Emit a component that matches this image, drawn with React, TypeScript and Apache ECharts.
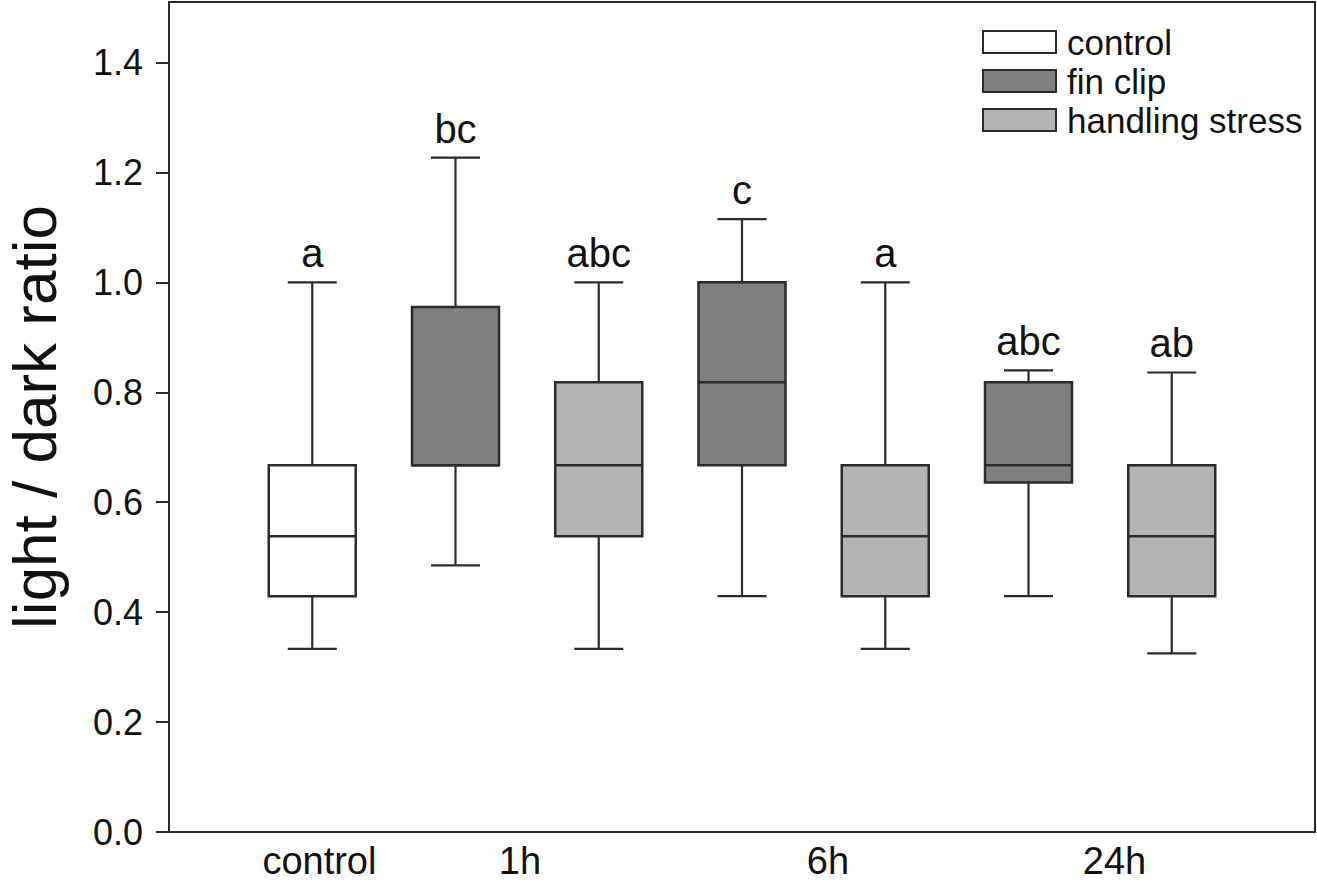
import React, { useEffect, useRef } from "react";
import * as echarts from "echarts";

// Box positions on the x axis (1..7) and their treatment group
const positions = [1, 2, 3, 4, 5, 6, 7];
const groups = ["control", "fin clip", "handling stress", "fin clip", "handling stress", "fin clip", "handling stress"];
// five-number summaries
const mins = [0.333, 0.485, 0.333, 0.429, 0.333, 0.429, 0.325];
const q1s = [0.429, 0.667, 0.538, 0.667, 0.429, 0.636, 0.429];
const medians = [0.538, 0.667, 0.667, 0.818, 0.538, 0.667, 0.538];
const q3s = [0.667, 0.955, 0.818, 1.0, 0.667, 0.818, 0.667];
const maxes = [1.0, 1.227, 1.0, 1.115, 1.0, 0.84, 0.836];
const letters = ["a", "bc", "abc", "c", "a", "abc", "ab"];

const seriesNames = ["control", "fin clip", "handling stress"];
const seriesFills = ["#ffffff", "#808080", "#b4b4b4"];

const xLabelPositions = [1.05, 2.45, 4.6, 6.6];
const xLabelTexts = ["control", "1h", "6h", "24h"];
const yTicks = [0, 0.2, 0.4, 0.6, 0.8, 1.0, 1.2, 1.4];

const FONT = "'Liberation Sans', Arial, sans-serif";
const INK = "#2b2b2b";

export default function App() {
  const ref = useRef<HTMLDivElement>(null);
  useEffect(() => {
    if (!ref.current) return;
    const chart = echarts.init(ref.current, null, { renderer: "svg" });

    const makeRender = (fill: string) => (params: any, api: any) => {
      const x = api.value(0);
      const idx = api.value(6);
      const pMin = api.coord([x, api.value(1)]);
      const pQ1 = api.coord([x, api.value(2)]);
      const pMed = api.coord([x, api.value(3)]);
      const pQ3 = api.coord([x, api.value(4)]);
      const pMax = api.coord([x, api.value(5)]);
      const cx = pMin[0];
      const boxW = 87;
      const capW = 49;
      const ls = { stroke: INK, lineWidth: 2.2, fill: null };
      return {
        type: "group",
        children: [
          { type: "line", shape: { x1: cx, y1: pMax[1], x2: cx, y2: pQ3[1] }, style: ls },
          { type: "line", shape: { x1: cx, y1: pQ1[1], x2: cx, y2: pMin[1] }, style: ls },
          { type: "line", shape: { x1: cx - capW / 2, y1: pMax[1], x2: cx + capW / 2, y2: pMax[1] }, style: ls },
          { type: "line", shape: { x1: cx - capW / 2, y1: pMin[1], x2: cx + capW / 2, y2: pMin[1] }, style: ls },
          {
            type: "rect",
            shape: { x: cx - boxW / 2, y: pQ3[1], width: boxW, height: pQ1[1] - pQ3[1] },
            style: { fill, stroke: INK, lineWidth: 2.5 },
          },
          { type: "line", shape: { x1: cx - boxW / 2, y1: pMed[1], x2: cx + boxW / 2, y2: pMed[1] }, style: { stroke: INK, lineWidth: 2.5 } },
          {
            type: "text",
            x: cx,
            y: pMax[1] - 9,
            style: {
              text: letters[idx],
              fill: "#111",
              font: `40px ${FONT}`,
              align: "center",
              verticalAlign: "bottom",
            },
          },
        ],
      };
    };

    const series = seriesNames.map((name, s) => ({
      name,
      type: "custom",
      renderItem: makeRender(seriesFills[s]),
      itemStyle: { color: seriesFills[s], borderColor: INK, borderWidth: 2 },
      encode: { x: 0, y: [1, 2, 3, 4, 5] },
      data: positions
        .map((p, i) => ({ p, i }))
        .filter((d) => groups[d.i] === name)
        .map((d) => [d.p, mins[d.i], q1s[d.i], medians[d.i], q3s[d.i], maxes[d.i], d.i]),
    }));

    chart.setOption({
      animation: false,
      backgroundColor: "#ffffff",
      textStyle: { fontFamily: FONT },
      grid: {
        left: 169,
        right: 2,
        top: 2,
        bottom: 54,
        containLabel: false,
        outerBoundsMode: "none",
        show: true,
        borderColor: INK,
        borderWidth: 2,
        backgroundColor: "transparent",
      },
      legend: {
        orient: "vertical",
        left: 982,
        top: 24,
        padding: 0,
        itemWidth: 73,
        itemHeight: 22,
        itemGap: 3,
        icon: "rect",
        selectedMode: false,
        textStyle: { fontSize: 35, lineHeight: 36, color: "#111", fontFamily: FONT, padding: [0, 0, 0, 6] },
        data: seriesNames.map((n, s) => ({
          name: n,
          itemStyle: { color: seriesFills[s], borderColor: INK, borderWidth: 2 },
        })),
      },
      xAxis: {
        type: "value",
        min: 0,
        max: 8,
        axisLine: { show: true, lineStyle: { color: INK, width: 2 } },
        axisTick: { show: false },
        splitLine: { show: false },
        axisLabel: {
          customValues: xLabelPositions,
          fontSize: 38,
          color: "#111",
          margin: 10,
          formatter: (v: number) => {
            const k = xLabelPositions.findIndex((p) => Math.abs(p - v) < 1e-6);
            return k >= 0 ? xLabelTexts[k] : "";
          },
        },
      },
      yAxis: {
        type: "value",
        min: 0,
        max: 1.51,
        name: "light / dark ratio",
        nameLocation: "middle",
        nameGap: 104,
        nameTextStyle: { fontSize: 62, color: "#111", fontFamily: FONT },
        axisLine: { show: true, lineStyle: { color: INK, width: 2 } },
        axisTick: { show: true, inside: false, length: 13, customValues: yTicks, lineStyle: { color: INK, width: 2 } },
        splitLine: { show: false },
        axisLabel: {
          customValues: yTicks,
          fontSize: 36,
          color: "#111",
          margin: 26,
          formatter: (v: number) => v.toFixed(1),
        },
      },
      series,
    });
    return () => chart.dispose();
  }, []);
  return (
    <div
      ref={ref}
      style={{ position: "fixed", left: 0, top: 0, width: 1317, height: 886, background: "#fff" }}
    />
  );
}
